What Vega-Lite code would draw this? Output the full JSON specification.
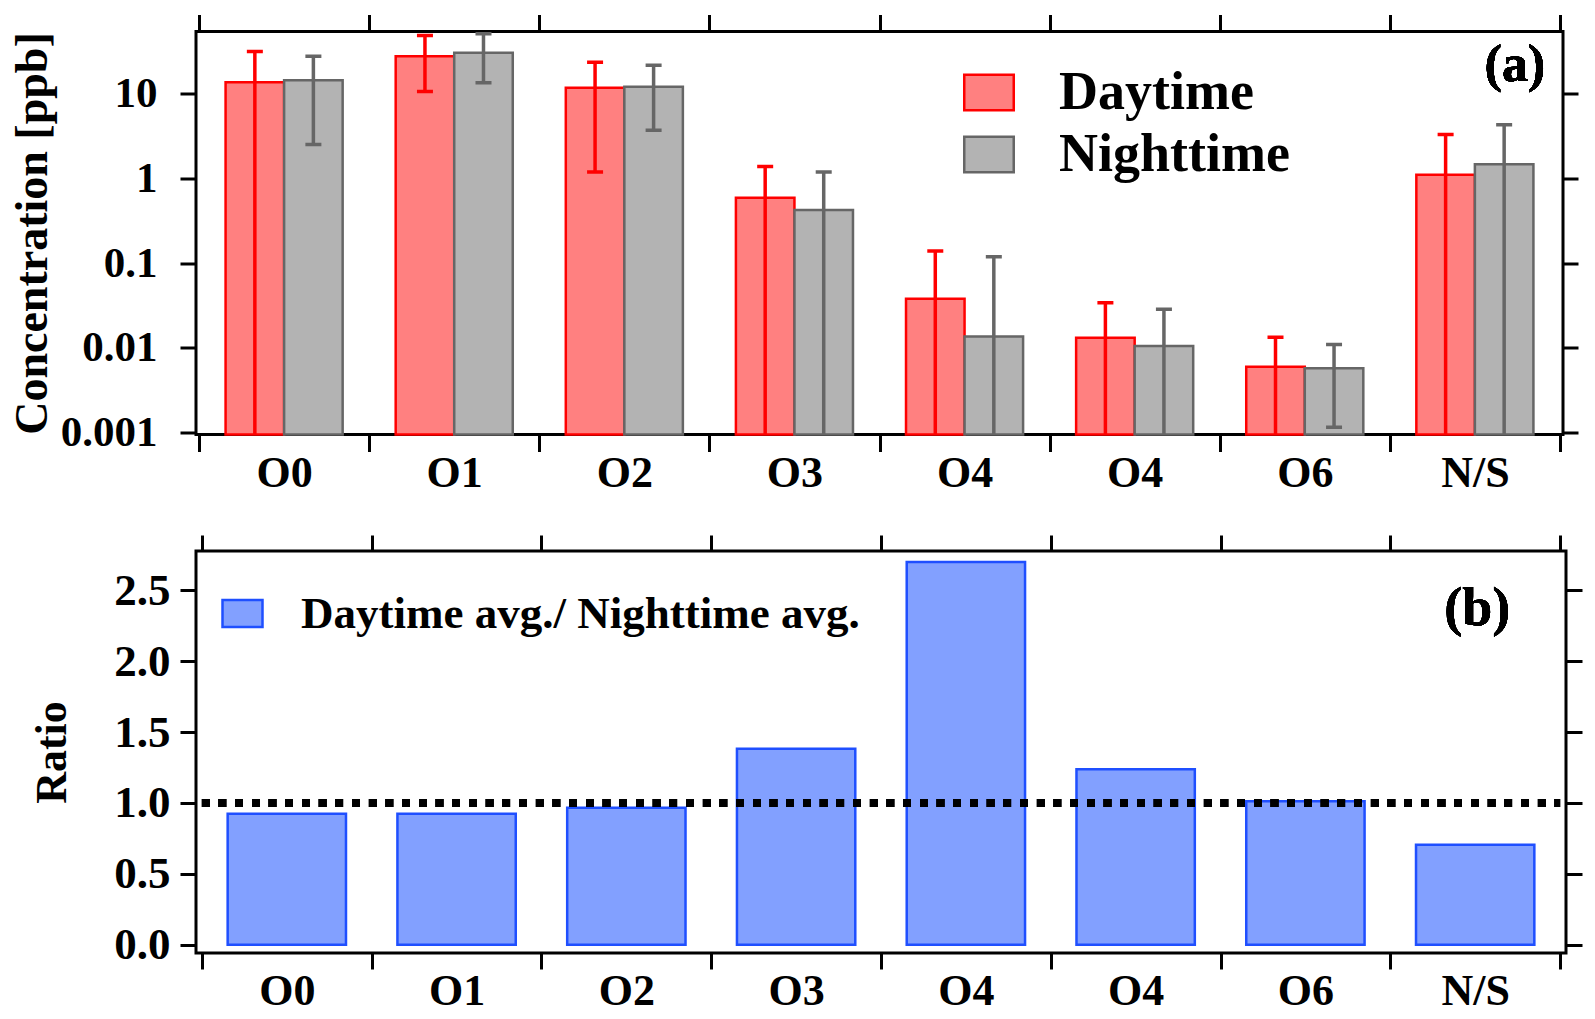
{
  "$schema": "https://vega.github.io/schema/vega-lite/v6.json",
  "background": "white",
  "padding": {"left": 7, "top": 11.5, "right": 5, "bottom": 5},
  "spacing": 34.5,
  "resolve": {
    "scale": {"fill": "independent", "stroke": "independent"},
    "legend": {"fill": "independent", "stroke": "independent"}
  },
  "datasets": {
    "conc": [
      {"group": "O0", "series": "Daytime", "value": 13.7, "lo": 0.0001, "hi": 31.6},
      {"group": "O0", "series": "Nighttime", "value": 14.4, "lo": 2.52, "hi": 27.8},
      {"group": "O1", "series": "Daytime", "value": 27.8, "lo": 10.6, "hi": 48.7},
      {"group": "O1", "series": "Nighttime", "value": 30.5, "lo": 13.5, "hi": 51},
      {"group": "O2", "series": "Daytime", "value": 11.8, "lo": 1.19, "hi": 23.6},
      {"group": "O2", "series": "Nighttime", "value": 12.1, "lo": 3.72, "hi": 21.7},
      {"group": "O3", "series": "Daytime", "value": 0.593, "lo": 0.0001, "hi": 1.38},
      {"group": "O3", "series": "Nighttime", "value": 0.424, "lo": 0.0001, "hi": 1.19},
      {"group": "O4", "series": "Daytime", "value": 0.0381, "lo": 0.0001, "hi": 0.139},
      {"group": "O4", "series": "Nighttime", "value": 0.0136, "lo": 0.0001, "hi": 0.119},
      {"group": "O4b", "series": "Daytime", "value": 0.0132, "lo": 0.0001, "hi": 0.0342},
      {"group": "O4b", "series": "Nighttime", "value": 0.0105, "lo": 0.0001, "hi": 0.0285},
      {"group": "O6", "series": "Daytime", "value": 0.0060, "lo": 0.0001, "hi": 0.0134},
      {"group": "O6", "series": "Nighttime", "value": 0.00574, "lo": 0.00116, "hi": 0.0110},
      {"group": "N/S", "series": "Daytime", "value": 1.11, "lo": 0.0001, "hi": 3.31},
      {"group": "N/S", "series": "Nighttime", "value": 1.47, "lo": 0.0001, "hi": 4.3}
    ],
    "ratio": [
      {"group": "O0", "ratio": 0.923},
      {"group": "O1", "ratio": 0.923},
      {"group": "O2", "ratio": 0.965},
      {"group": "O3", "ratio": 1.382},
      {"group": "O4", "ratio": 2.70},
      {"group": "O4b", "ratio": 1.238},
      {"group": "O6", "ratio": 1.012},
      {"group": "N/S", "ratio": 0.704}
    ]
  },
  "vconcat": [
    {
      "width": 1367,
      "height": 403,
      "data": {"name": "conc"},
      "layer": [
        {
          "mark": {"type": "bar", "strokeWidth": 2.5},
          "encoding": {
            "x": {
              "field": "group", "type": "nominal",
              "sort": ["O0", "O1", "O2", "O3", "O4", "O4b", "O6", "N/S"],
              "scale": {"type": "band", "domain": ["O0", "O1", "O2", "O3", "O4", "O4b", "O6", "N/S"], "paddingInner": 0, "paddingOuter": 0.018},
              "axis": {"orient": "bottom", "title": null, "labelExpr": "datum.value == 'O4b' ? 'O4' : datum.value", "labelFontSize": 44, "labelPadding": 0, "tickSize": 17, "tickBand": "extent", "labelAngle": 0}
            },
            "xOffset": {"field": "series", "type": "nominal", "scale": {"type": "band", "paddingInner": 0, "paddingOuter": 0.453}},
            "y": {
              "field": "value", "type": "quantitative", "stack": null,
              "scale": {"type": "log", "domain": [0.00095, 54.3], "nice": false},
              "axis": {"orient": "left", "title": "Concentration [ppb]", "values": [0.001, 0.01, 0.1, 1, 10], "format": "~g", "labelFontSize": 43, "labelPadding": 23, "tickSize": 16, "titleFontSize": 46, "titlePadding": 4, "labelFlush": false}
            },
            "fill": {
              "field": "series", "type": "nominal",
              "scale": {"domain": ["Daytime", "Nighttime"], "range": ["#FF8080", "#B3B3B3"]},
              "legend": {"orient": "none", "legendX": 766, "legendY": 34, "title": null, "labelFontSize": 54, "labelLimit": 1000, "symbolType": "M-1,-0.72H1V0.72H-1Z", "symbolSize": 2450, "symbolStrokeWidth": 2.5, "rowPadding": 8, "labelOffset": 43, "padding": 0}
            },
            "stroke": {
              "field": "series", "type": "nominal",
              "scale": {"domain": ["Daytime", "Nighttime"], "range": ["#FF0000", "#666666"]},
              "legend": {"orient": "none", "legendX": 766, "legendY": 34, "title": null, "labelFontSize": 54, "labelLimit": 1000, "symbolType": "M-1,-0.72H1V0.72H-1Z", "symbolSize": 2450, "symbolStrokeWidth": 2.5, "rowPadding": 8, "labelOffset": 43, "padding": 0}
            }
          }
        },
        {
          "mark": {"type": "rule", "strokeWidth": 3.5, "clip": true},
          "encoding": {
            "x": {"field": "group", "type": "nominal", "axis": {"orient": "top", "labels": false, "title": null, "tickSize": 17, "tickBand": "extent"}},
            "xOffset": {"field": "series", "type": "nominal"},
            "y": {"field": "lo", "type": "quantitative", "axis": {"orient": "right", "labels": false, "title": null, "values": [0.001, 0.01, 0.1, 1, 10], "tickSize": 15}},
            "y2": {"field": "hi"},
            "stroke": {"field": "series", "type": "nominal", "legend": null}
          }
        },
        {
          "mark": {"type": "point", "shape": "M-1,0L1,0", "filled": false, "size": 256, "strokeWidth": 3.5, "opacity": 1, "clip": true},
          "encoding": {
            "x": {"field": "group", "type": "nominal", "axis": null},
            "xOffset": {"field": "series", "type": "nominal"},
            "y": {"field": "hi", "type": "quantitative", "axis": null},
            "stroke": {"field": "series", "type": "nominal", "legend": null}
          }
        },
        {
          "mark": {"type": "point", "shape": "M-1,0L1,0", "filled": false, "size": 256, "strokeWidth": 3.5, "opacity": 1, "clip": true},
          "encoding": {
            "x": {"field": "group", "type": "nominal", "axis": null},
            "xOffset": {"field": "series", "type": "nominal"},
            "y": {"field": "lo", "type": "quantitative", "axis": null},
            "stroke": {"field": "series", "type": "nominal", "legend": null}
          }
        },
        {
          "mark": {"type": "text", "text": "(a)", "font": "Liberation Serif", "fontWeight": "bold", "fontSize": 52, "baseline": "alphabetic", "align": "center", "dx": 40, "color": "black"},
          "encoding": {
            "x": {"datum": "N/S", "axis": null},
            "y": {"datum": 14, "axis": null}
          }
        }
      ]
    },
    {
      "width": 1370,
      "height": 402,
      "data": {"name": "ratio"},
      "layer": [
        {
          "mark": {"type": "bar", "width": {"band": 0.697}, "strokeWidth": 2.5},
          "encoding": {
            "x": {
              "field": "group", "type": "nominal",
              "sort": ["O0", "O1", "O2", "O3", "O4", "O4b", "O6", "N/S"],
              "scale": {"type": "band", "domain": ["O0", "O1", "O2", "O3", "O4", "O4b", "O6", "N/S"], "paddingInner": 0, "paddingOuter": 0.035},
              "axis": {"orient": "bottom", "title": null, "labelExpr": "datum.value == 'O4b' ? 'O4' : datum.value", "labelFontSize": 44, "labelPadding": 0, "tickSize": 16, "tickBand": "extent", "labelAngle": 0}
            },
            "y": {
              "field": "ratio", "type": "quantitative", "stack": null,
              "scale": {"domain": [-0.059, 2.777], "nice": false, "zero": false},
              "axis": {"orient": "left", "title": "Ratio", "values": [0, 0.5, 1, 1.5, 2, 2.5], "format": ".1f", "labelFontSize": 45, "labelPadding": 10, "tickSize": 16, "titleFontSize": 44, "titlePadding": 39, "labelFlush": false}
            },
            "fill": {
              "datum": "Daytime avg./ Nighttime avg.", "type": "nominal",
              "scale": {"domain": ["Daytime avg./ Nighttime avg."], "range": ["#82A0FF"]},
              "legend": {"orient": "none", "legendX": 24, "legendY": 40, "title": null, "labelFontSize": 45, "labelLimit": 1000, "symbolType": "M-1,-0.68H1V0.68H-1Z", "symbolSize": 1600, "symbolStrokeWidth": 2.5, "labelOffset": 36, "padding": 0}
            },
            "stroke": {
              "datum": "Daytime avg./ Nighttime avg.", "type": "nominal",
              "scale": {"domain": ["Daytime avg./ Nighttime avg."], "range": ["#1F4FFF"]},
              "legend": {"orient": "none", "legendX": 24, "legendY": 40, "title": null, "labelFontSize": 45, "labelLimit": 1000, "symbolType": "M-1,-0.68H1V0.68H-1Z", "symbolSize": 1600, "symbolStrokeWidth": 2.5, "labelOffset": 36, "padding": 0}
            }
          }
        },
        {
          "mark": {"type": "rule", "strokeDash": [7.5, 9.2], "strokeWidth": 8, "color": "black"},
          "encoding": {
            "x": {"datum": "O0", "bandPosition": 0, "axis": {"orient": "top", "labels": false, "title": null, "tickSize": 16, "tickBand": "extent"}},
            "x2": {"datum": "N/S", "bandPosition": 1},
            "y": {"datum": 1, "axis": {"orient": "right", "labels": false, "title": null, "values": [0, 0.5, 1, 1.5, 2, 2.5], "tickSize": 16}}
          }
        },
        {
          "mark": {"type": "text", "text": "(b)", "font": "Liberation Serif", "fontWeight": "bold", "fontSize": 54, "baseline": "alphabetic", "align": "center", "dx": 2, "color": "black"},
          "encoding": {
            "x": {"datum": "N/S", "axis": null},
            "y": {"datum": 2.253, "axis": null}
          }
        }
      ]
    }
  ],
  "config": {
    "font": "Liberation Serif",
    "view": {"stroke": "black", "strokeWidth": 3},
    "axis": {
      "labelFont": "Liberation Serif", "labelFontWeight": "bold", "labelColor": "black",
      "titleFont": "Liberation Serif", "titleFontWeight": "bold", "titleColor": "black",
      "tickColor": "black", "tickWidth": 3, "domain": false, "grid": false
    },
    "legend": {"labelFont": "Liberation Serif", "labelFontWeight": "bold", "labelColor": "black"}
  }
}
